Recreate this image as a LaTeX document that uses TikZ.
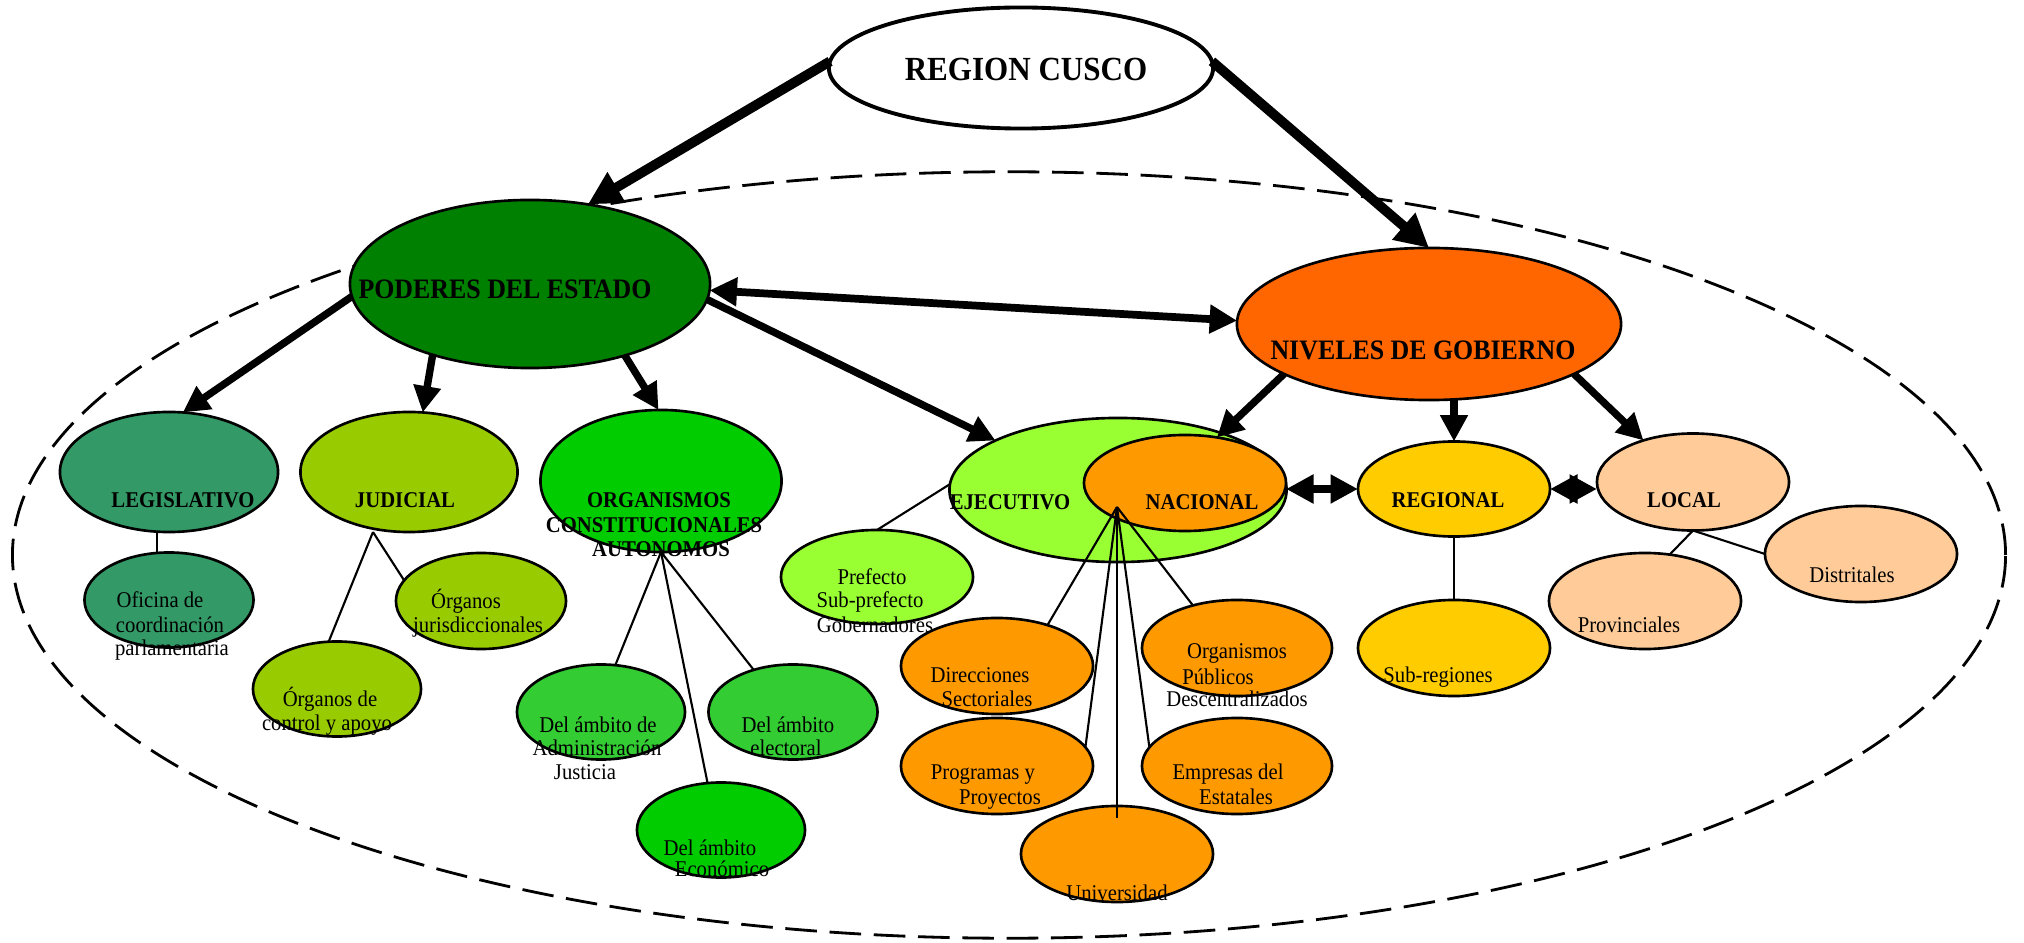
\documentclass[tikz,border=0pt]{standalone}
\usepackage{fontspec}
\setmainfont{Liberation Serif}[FakeStretch=0.92]
\usetikzlibrary{shapes.geometric,arrows.meta,calc}

\definecolor{cPod}{HTML}{008000}
\definecolor{cNiv}{HTML}{FF6600}
\definecolor{cLeg}{HTML}{339966}
\definecolor{cJud}{HTML}{99CC00}
\definecolor{cOrg}{HTML}{00CC00}
\definecolor{cAmb}{HTML}{33CC33}
\definecolor{cEje}{HTML}{99FF33}
\definecolor{cNac}{HTML}{FF9900}
\definecolor{cReg}{HTML}{FFCC00}
\definecolor{cLoc}{HTML}{FFCC99}

\begin{document}
\begin{tikzpicture}[x=0.01cm,y=-0.01cm,
  ell/.style={ellipse, draw=black, line width=0.75pt, inner sep=0pt, outer sep=0pt},
  frame/.style={line width=0.8pt, dash pattern=on 9pt off 3.6pt},
  conn/.style={line width=0.6pt},
  arrA/.style={line width=2.8pt, -{Triangle[length=9.5pt,width=9.5pt]}},
  arrB/.style={line width=2.1pt, -{Triangle[length=7.5pt,width=7.5pt]}},
  arrC/.style={line width=2.2pt, {Triangle[length=7.8pt,width=7.8pt]}-{Triangle[length=7.8pt,width=7.8pt]}},
  tx/.style={anchor=base, inner sep=0pt, font=\fontsize{6.4}{7}\selectfont},
  txb/.style={anchor=base, inner sep=0pt, font=\fontsize{6.4}{7}\selectfont\bfseries},
  txm/.style={anchor=base, inner sep=0pt, font=\fontsize{8}{9}\selectfont\bfseries},
  txt/.style={anchor=base, inner sep=0pt, font=\fontsize{9.6}{11}\selectfont\bfseries}]

\useasboundingbox (0,0) rectangle (2024,943);
\fill[white] (0,0) rectangle (2024,943);

% dashed outline around the state structure
\draw[frame] (1009,555) ellipse [x radius=9.96cm, y radius=3.83cm];

% top level
\node[ell, line width=1.1pt, fill=white, minimum width=3.84cm, minimum height=1.21cm] (cusco) at (1021,68) {};
\node[ell, fill=cPod, minimum width=3.60cm, minimum height=1.68cm] (poderes) at (530,284) {};
\node[ell, fill=cNiv, minimum width=3.84cm, minimum height=1.52cm] (niveles) at (1429,324) {};

% powers of the state
\node[ell, fill=cLeg, minimum width=2.18cm, minimum height=1.20cm] (legis) at (169,472) {};
\node[ell, fill=cJud, minimum width=2.17cm, minimum height=1.20cm] (judicial) at (409,472) {};
\node[ell, fill=cOrg, minimum width=2.41cm, minimum height=1.42cm] (organ) at (661,481) {};
\node[ell, fill=cEje, minimum width=3.37cm, minimum height=1.44cm] (ejec) at (1118,490) {};

% levels of government
\node[ell, fill=cNac, minimum width=2.02cm, minimum height=0.96cm] (nacional) at (1185,483) {};
\node[ell, fill=cReg, minimum width=1.92cm, minimum height=0.95cm] (regional) at (1454,489) {};
\node[ell, fill=cLoc, minimum width=1.92cm, minimum height=0.97cm] (local) at (1693,482) {};

% second-level entities
\node[ell, fill=cLeg, minimum width=1.69cm, minimum height=0.95cm] (oficina) at (169,600) {};
\node[ell, fill=cJud, minimum width=1.70cm, minimum height=0.96cm] (jurisd) at (481,601) {};
\node[ell, fill=cJud, minimum width=1.68cm, minimum height=0.95cm] (control) at (337,689) {};
\node[ell, fill=cAmb, minimum width=1.68cm, minimum height=0.95cm] (admin) at (601,712) {};
\node[ell, fill=cAmb, minimum width=1.69cm, minimum height=0.95cm] (electoral) at (793,712) {};
\node[ell, fill=cOrg, minimum width=1.68cm, minimum height=0.95cm] (economico) at (721,830) {};
\node[ell, fill=cEje, minimum width=1.92cm, minimum height=0.94cm] (prefecto) at (877,577) {};
\node[ell, fill=cNac, minimum width=1.92cm, minimum height=0.96cm] (direcc) at (997,666) {};
\node[ell, fill=cNac, minimum width=1.90cm, minimum height=0.96cm] (orgpub) at (1237,648) {};
\node[ell, fill=cNac, minimum width=1.92cm, minimum height=0.96cm] (program) at (997,766) {};
\node[ell, fill=cNac, minimum width=1.90cm, minimum height=0.96cm] (empresas) at (1237,766) {};
\node[ell, fill=cNac, minimum width=1.92cm, minimum height=0.96cm] (univ) at (1117,854) {};
\node[ell, fill=cReg, minimum width=1.92cm, minimum height=0.96cm] (subreg) at (1454,648) {};
\node[ell, fill=cLoc, minimum width=1.92cm, minimum height=0.96cm] (provin) at (1645,601) {};
\node[ell, fill=cLoc, minimum width=1.92cm, minimum height=0.96cm] (distr) at (1861,554) {};

% thin links
\draw[conn] ([xshift=-0.12cm]legis.south) -- ([xshift=-0.12cm]oficina.north);
\coordinate (jhub) at ([xshift=-0.36cm]judicial.south);
\draw[conn] (jhub) -- (control.100);
\draw[conn] (jhub) -- (jurisd.165);
\coordinate (ohub) at (organ.south);
\draw[conn] (ohub) -- (admin.73);
\draw[conn] (ohub) -- (electoral.133);
\draw[conn] (ohub) -- (economico.106);
\draw[conn] (ejec.178) -- (prefecto.north);
\coordinate (nhub) at ($(nacional.center)+(-68,24)$);
\draw[conn] (nhub) -- (direcc.39);
\draw[conn] (nhub) -- (orgpub.136);
\draw[conn] (nhub) -- (program.12);
\draw[conn] (nhub) -- (empresas.168);
\draw[conn] (nhub) -- ([yshift=-0.12cm]univ.north);
\draw[conn] (regional.south) -- (subreg.north);
\draw[conn] (local.south) -- (provin.62);
\draw[conn] (local.south) -- (distr.west);

% thick arrows
\draw[arrA] (cusco.178) -- (poderes.54);
\draw[arrA] (cusco.2) -- (niveles.north);
\draw[arrC] (poderes.-2) -- (niveles.179);
\draw[arrB] (poderes.184) -- (legis.77);
\draw[arrB] (poderes.216) -- (judicial.77);
\draw[arrB] (poderes.-37) -- (organ.92);
\draw[arrB] (poderes.-5) -- (ejec.158);
\draw[arrB] (niveles.199) -- (nacional.55);
\draw[arrB] (niveles.south -| regional.north) -- (regional.north);
\draw[arrB] (niveles.-19) -- (local.140);
\draw[arrC] (regional.west -| nacional.east) -- (regional.west);
\draw[arrC] (regional.east) -- (regional.east -| local.west);

% labels
\node[txt] (tCusco) at (1026,81) {REGION CUSCO};
\node[txm] (tPod) at (505,299) {PODERES DEL ESTADO};
\node[txm] (tNiv) at (1423,360) {NIVELES DE GOBIERNO};
\node[txb] (tLeg) at (183,508) {LEGISLATIVO};
\node[txb] (tJud) at (405,508) {JUDICIAL};
\node[txb] (tOrg1) at (659,508) {ORGANISMOS};
\node[txb] (tOrg2) at (654,533) {CONSTITUCIONALES};
\node[txb] (tOrg3) at (661,557) {AUTONOMOS};
\node[txb] (tEje) at (1010,509) {EJECUTIVO};
\node[txb] (tNac) at (1202,509) {NACIONAL};
\node[txb] (tReg) at (1448,508) {REGIONAL};
\node[txb] (tLoc) at (1684,508) {LOCAL};

\node[tx] (tOf1) at (160,607) {Oficina de};
\node[tx] (tOf2) at (170,632) {coordinación};
\node[tx] (tOf3) at (172,656) {parlamentaria};
\node[tx] (tJu1) at (466,608) {Órganos};
\node[tx] (tJu2) at (478,632) {jurisdiccionales};
\node[tx] (tCo1) at (330,706) {Órganos de};
\node[tx] (tCo2) at (327,730) {control y apoyo};
\node[tx] (tAd1) at (598,732) {Del ámbito de};
\node[tx] (tAd2) at (597,755) {Administración};
\node[tx] (tAd3) at (585,779) {Justicia};
\node[tx] (tEl1) at (788,732) {Del ámbito};
\node[tx] (tEl2) at (786,755) {electoral};
\node[tx] (tEc1) at (710,855) {Del ámbito};
\node[tx] (tEc2) at (722,876) {Económico};
\node[tx] (tPr1) at (872,584) {Prefecto};
\node[tx] (tPr2) at (870,607) {Sub-prefecto};
\node[tx] (tPr3) at (875,632) {Gobernadores};
\node[tx] (tDi1) at (980,682) {Direcciones};
\node[tx] (tDi2) at (987,706) {Sectoriales};
\node[tx] (tOp1) at (1237,658) {Organismos};
\node[tx] (tOp2) at (1218,684) {Públicos};
\node[tx] (tOp3) at (1237,706) {Descentralizados};
\node[tx] (tPg1) at (983,779) {Programas y};
\node[tx] (tPg2) at (1000,804) {Proyectos};
\node[tx] (tEm1) at (1228,779) {Empresas del};
\node[tx] (tEm2) at (1236,804) {Estatales};
\node[tx] (tUni) at (1117,900) {Universidad};
\node[tx] (tSub) at (1438,682) {Sub-regiones};
\node[tx] (tPrv) at (1629,632) {Provinciales};
\node[tx] (tDis) at (1852,583) {Distritales};
\end{tikzpicture}
\end{document}
